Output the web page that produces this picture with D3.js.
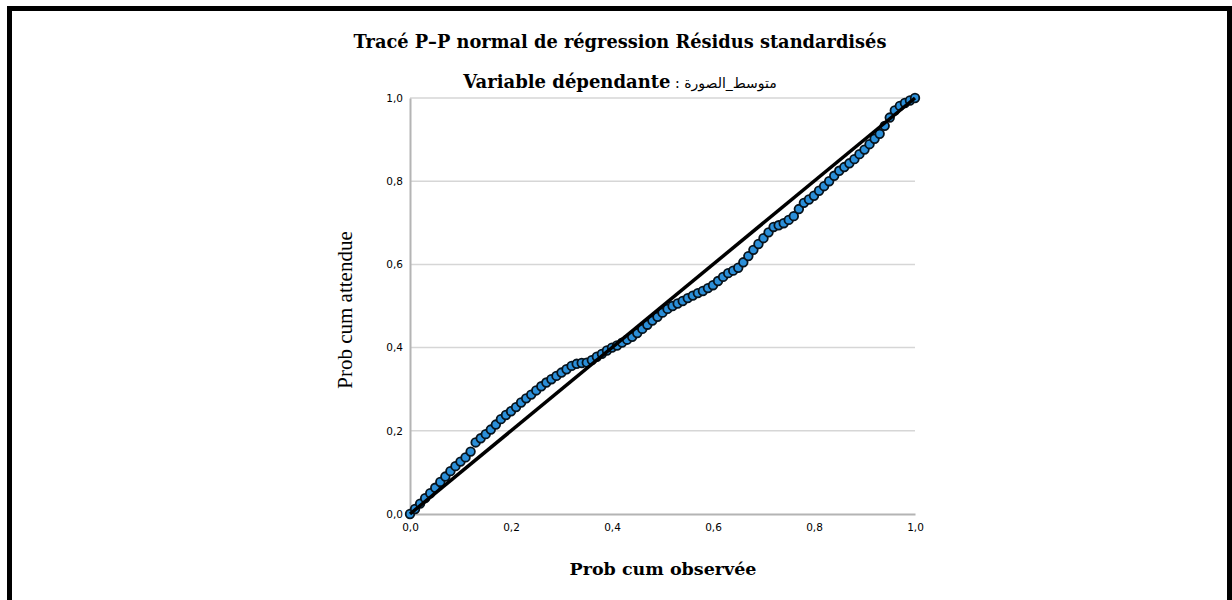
<!DOCTYPE html>
<html>
<head>
<meta charset="utf-8">
<script src="https://cdn.jsdelivr.net/npm/d3@7"></script>
<style>
  body { margin: 0; background: #fff; }
  svg { display: block; }
</style>
</head>
<body>
<script>
// observed cumulative probability (x) and expected cumulative probability (y)
const observed = [
  0.00, 0.01, 0.02, 0.03, 0.04, 0.05, 0.06, 0.07, 0.08, 0.09,
  0.10, 0.11, 0.12, 0.13, 0.14, 0.15, 0.16, 0.17, 0.18, 0.19,
  0.20, 0.21, 0.22, 0.23, 0.24, 0.25, 0.26, 0.27, 0.28, 0.29,
  0.30, 0.31, 0.32, 0.33, 0.34, 0.35, 0.36, 0.37, 0.38, 0.39,
  0.40, 0.41, 0.42, 0.43, 0.44, 0.45, 0.46, 0.47, 0.48, 0.49,
  0.50, 0.51, 0.52, 0.53, 0.54, 0.55, 0.56, 0.57, 0.58, 0.59,
  0.60, 0.61, 0.62, 0.63, 0.64, 0.65, 0.66, 0.67, 0.68, 0.69,
  0.70, 0.71, 0.72, 0.73, 0.74, 0.75, 0.76, 0.77, 0.78, 0.79,
  0.80, 0.81, 0.82, 0.83, 0.84, 0.85, 0.86, 0.87, 0.88, 0.89,
  0.90, 0.91, 0.92, 0.93, 0.94, 0.95, 0.96, 0.97, 0.98, 0.99, 1.00
];
const expected = [
  0.000, 0.012, 0.025, 0.038, 0.050, 0.063, 0.077, 0.090, 0.103, 0.115,
  0.126, 0.136, 0.150, 0.172, 0.182, 0.192, 0.203, 0.215, 0.228, 0.238,
  0.247, 0.257, 0.268, 0.278, 0.287, 0.297, 0.307, 0.316, 0.324, 0.332,
  0.340, 0.348, 0.356, 0.361, 0.363, 0.364, 0.370, 0.378, 0.385, 0.393,
  0.400, 0.405, 0.412, 0.419, 0.426, 0.435, 0.445, 0.455, 0.465, 0.474,
  0.484, 0.493, 0.500, 0.506, 0.512, 0.519, 0.525, 0.531, 0.536, 0.543,
  0.550, 0.560, 0.570, 0.579, 0.585, 0.592, 0.605, 0.620, 0.635, 0.649,
  0.663, 0.677, 0.690, 0.694, 0.699, 0.707, 0.716, 0.733, 0.748, 0.756,
  0.765, 0.777, 0.788, 0.800, 0.813, 0.825, 0.834, 0.843, 0.853, 0.865,
  0.876, 0.889, 0.902, 0.914, 0.933, 0.953, 0.970, 0.981, 0.988, 0.994, 1.000
];
const tickValues = [0, 0.2, 0.4, 0.6, 0.8, 1.0];

const width = 1232;
const height = 600;

const svg = d3.select('body').append('svg')
  .attr('width', width)
  .attr('height', height);

// outer frame (top, left, right)
svg.append('path')
  .attr('d', `M9.5,600 L9.5,8.5 L1229.5,8.5 L1229.5,600`)
  .attr('fill', 'none')
  .attr('stroke', '#000')
  .attr('stroke-width', 5);

const x = d3.scaleLinear().domain([0, 1]).range([410, 915]);
const y = d3.scaleLinear().domain([0, 1]).range([514, 98]);

const fmt = d => d3.format('.1f')(d).replace('.', ',');

// gridlines
svg.append('g')
  .selectAll('line')
  .data(tickValues.slice(1))
  .enter()
  .append('line')
  .attr('x1', x(0))
  .attr('x2', x(1))
  .attr('y1', d => y(d))
  .attr('y2', d => y(d))
  .attr('stroke', '#d6d6d6')
  .attr('stroke-width', 1.5);

// axes
const xAxis = svg.append('g')
  .attr('transform', `translate(0,${y(0)})`)
  .call(d3.axisBottom(x).tickValues(tickValues).tickFormat(fmt).tickSize(0).tickPadding(10));
const yAxis = svg.append('g')
  .attr('transform', `translate(${x(0)},0)`)
  .call(d3.axisLeft(y).tickValues(tickValues).tickFormat(fmt).tickSize(0).tickPadding(7));

[xAxis, yAxis].forEach(a => {
  a.select('.domain').attr('stroke', '#b4b4b4').attr('stroke-width', 2);
  a.selectAll('text')
    .attr('font-family', 'DejaVu Sans')
    .attr('font-size', 10.5)
    .attr('fill', '#000');
});

// points
svg.append('g')
  .selectAll('circle')
  .data(observed.map((o, i) => [o, expected[i]]))
  .enter()
  .append('circle')
  .attr('cx', d => x(d[0]))
  .attr('cy', d => y(d[1]))
  .attr('r', 4.3)
  .attr('fill', '#2b8fd9')
  .attr('stroke', '#07131c')
  .attr('stroke-width', 1.8);

// reference line
svg.append('line')
  .attr('x1', x(0)).attr('y1', y(0))
  .attr('x2', x(1)).attr('y2', y(1))
  .attr('stroke', '#000')
  .attr('stroke-width', 3.5);

// titles
svg.append('text')
  .attr('x', 620).attr('y', 48)
  .attr('text-anchor', 'middle')
  .attr('font-family', 'DejaVu Serif')
  .attr('font-weight', 'bold')
  .attr('font-size', 17.8)
  .text('Tracé P–P normal de régression Résidus standardisés');

const sub = svg.append('text')
  .attr('x', 620).attr('y', 88)
  .attr('text-anchor', 'middle')
  .attr('font-family', 'DejaVu Serif')
  .attr('font-size', 18);
sub.append('tspan').attr('font-weight', 'bold').text('Variable dépendante');
sub.append('tspan').attr('font-size', 14).text(' : ');
sub.append('tspan').attr('font-family', 'DejaVu Sans').attr('font-size', 14).text('متوسط_الصورة');

svg.append('text')
  .attr('x', 663).attr('y', 575)
  .attr('text-anchor', 'middle')
  .attr('font-family', 'DejaVu Serif')
  .attr('font-weight', 'bold')
  .attr('font-size', 17.5)
  .text('Prob cum observée');

svg.append('text')
  .attr('transform', 'translate(352,310) rotate(-90)')
  .attr('text-anchor', 'middle')
  .attr('font-family', 'Liberation Serif')
  .attr('font-size', 21)
  .text('Prob cum attendue');
</script>
</body>
</html>
